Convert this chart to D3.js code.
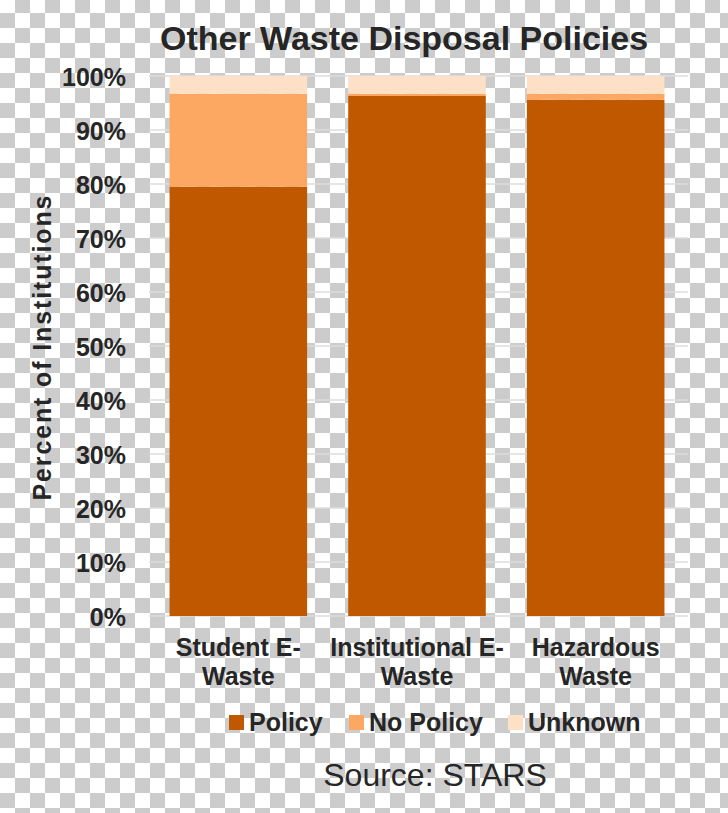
<!DOCTYPE html>
<html>
<head>
<meta charset="utf-8">
<script src="https://cdn.jsdelivr.net/npm/d3@7"></script>
<style>
  html, body { margin: 0; padding: 0; background: #fff; }
  svg { display: block; }
  text { font-family: "Liberation Sans", Arial, sans-serif; fill: #262626; }
</style>
</head>
<body>
<svg id="chart" width="728" height="813"></svg>
<script>
// ---- data ----
const categories = [["Student E-", "Waste"], ["Institutional E-", "Waste"], ["Hazardous", "Waste"]];
const seriesNames = ["Policy", "No Policy", "Unknown"];
const policy    = [0.795, 0.963, 0.956];
const noPolicy  = [0.172, 0.004, 0.011];
const unknown   = [0.033, 0.033, 0.033];
const yTicks = [0, 0.1, 0.2, 0.3, 0.4, 0.5, 0.6, 0.7, 0.8, 0.9, 1.0];
const colors = ["#C05800", "#FDA862", "#FDE0C5"];
const titleText = "Other Waste Disposal Policies";
const yAxisTitle = "Percent of Institutions";
const sourceText = "Source: STARS";

const svg = d3.select("#chart");
const W = 728, H = 813;

// checkerboard (transparent background look)
const defs = svg.append("defs");
const pat = defs.append("pattern").attr("id", "checker")
  .attr("patternUnits", "userSpaceOnUse")
  .attr("x", 0).attr("y", -2).attr("width", 30).attr("height", 30);
pat.append("rect").attr("width", 30).attr("height", 30).attr("fill", "#ffffff");
pat.append("rect").attr("x", 15).attr("y", 0).attr("width", 15).attr("height", 15).attr("fill", "#cccccc");
pat.append("rect").attr("x", 0).attr("y", 15).attr("width", 15).attr("height", 15).attr("fill", "#cccccc");
svg.append("rect").attr("width", W).attr("height", H).attr("fill", "url(#checker)");

// scales
const keys = categories.map(c => c.join(" "));
const x = d3.scaleBand().domain(keys).range([149, 685]).paddingInner(0.23).paddingOuter(0.115);
const y = d3.scaleLinear().domain([0, 1]).range([616, 76]);

// gridlines
svg.append("g").selectAll("line").data(yTicks).join("line")
  .attr("x1", 149).attr("x2", 688)
  .attr("y1", d => y(d)).attr("y2", d => y(d))
  .attr("stroke", "#dcdcdc").attr("stroke-width", 1.5);

// stacked bars
const rows = keys.map((k, i) => ({ key: k, "Policy": policy[i], "No Policy": noPolicy[i], "Unknown": unknown[i] }));
const stack = d3.stack().keys(seriesNames)(rows);
svg.append("g").selectAll("g").data(stack).join("g")
  .attr("fill", (d, i) => colors[i])
  .selectAll("rect").data(d => d).join("rect")
  .attr("x", d => x(d.data.key))
  .attr("width", x.bandwidth())
  .attr("y", d => y(d[1]))
  .attr("height", d => y(d[0]) - y(d[1]));

// y axis labels
const yAxis = d3.axisLeft(y).tickValues(yTicks).tickFormat(d3.format(".0%")).tickSize(0).tickPadding(0);
const gy = svg.append("g").attr("transform", "translate(126,0)").call(yAxis);
gy.select(".domain").remove();
gy.selectAll("text")
  .style("font-family", '"Liberation Sans", Arial, sans-serif')
  .style("font-size", "25px").style("font-weight", "bold").style("fill", "#262626")
  .attr("dy", "0.36em");

// x axis labels
const xg = svg.append("g");
categories.forEach((c, i) => {
  const t = xg.append("text")
    .attr("x", x(keys[i]) + x.bandwidth() / 2)
    .attr("text-anchor", "middle")
    .style("font-size", "25px").style("font-weight", "bold");
  c.forEach((line, j) => {
    t.append("tspan").attr("x", x(keys[i]) + x.bandwidth() / 2).attr("y", 656 + j * 29).text(line);
  });
});

// title
svg.append("text").attr("x", 404).attr("y", 50).attr("text-anchor", "middle")
  .style("font-size", "34px").style("font-weight", "bold").text(titleText);

// y axis title
svg.append("text").attr("transform", "translate(51,348) rotate(-90)")
  .attr("text-anchor", "middle")
  .attr("textLength", 305).attr("lengthAdjust", "spacing")
  .style("font-size", "25px").style("font-weight", "bold").text(yAxisTitle);

// legend
const legendX = [229, 349, 508];
const lg = svg.append("g");
seriesNames.forEach((s, i) => {
  lg.append("rect").attr("x", legendX[i]).attr("y", 715).attr("width", 15).attr("height", 15).attr("fill", colors[i]);
  lg.append("text").attr("x", legendX[i] + 20).attr("y", 731)
    .style("font-size", "25px").style("font-weight", "bold").text(s);
});

// source
svg.append("text").attr("x", 435).attr("y", 786).attr("text-anchor", "middle")
  .style("font-size", "32px").text(sourceText);
</script>
</body>
</html>
